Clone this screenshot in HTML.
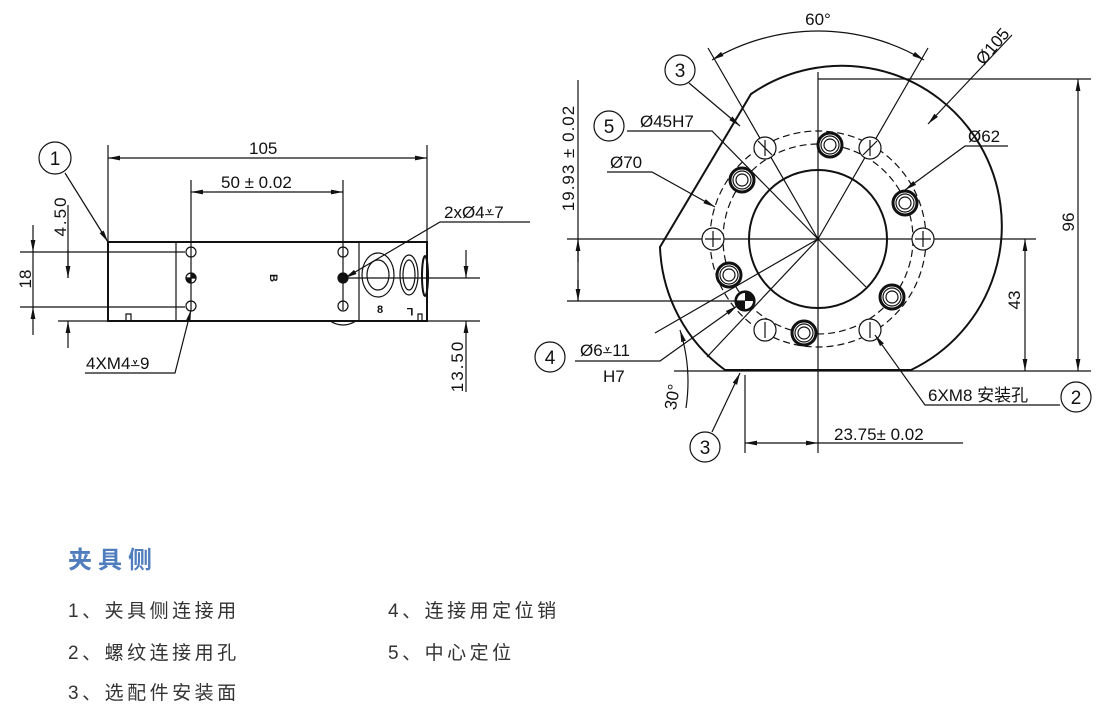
<!DOCTYPE html>
<html><head><meta charset="utf-8">
<style>
html,body{margin:0;padding:0;background:#fff;}
body{width:1108px;height:713px;position:relative;overflow:hidden;font-family:"Liberation Sans","Noto Sans CJK SC",sans-serif;}
svg{position:absolute;left:0;top:0;}
.t{position:absolute;font-family:"Liberation Sans","Noto Sans CJK SC",sans-serif;color:#333;font-size:19px;letter-spacing:3.5px;white-space:nowrap;line-height:1;}
</style></head><body>
<svg width="1108" height="713" viewBox="0 0 1108 713">
<defs>
<marker id="a" viewBox="0 0 12 6" refX="12" refY="3" markerWidth="12" markerHeight="6" markerUnits="userSpaceOnUse" orient="auto-start-reverse"><path d="M0,0.6 L12,3 L0,5.4 z" fill="#111"/></marker>
</defs>
<g stroke="#111" fill="none" stroke-width="1.2" font-family="Liberation Sans, Noto Sans CJK SC, sans-serif">
<!-- LEFT DRAWING -->
<rect x="108" y="242" width="319" height="79" stroke-width="2"/>
<line x1="176" y1="242" x2="176" y2="321"/>
<line x1="359" y1="242" x2="359" y2="321"/>
<path d="M126,321 v-7 h5 v7"/>
<path d="M418,321 v-7 h4 v7"/>
<circle cx="191" cy="252" r="5"/><circle cx="191" cy="306" r="5"/>
<circle cx="191" cy="278" r="5"/><path d="M191,278 v-5 a5,5 0 0 1 5,5 z M191,278 v5 a5,5 0 0 1 -5,-5 z" fill="#111"/>
<circle cx="343" cy="252" r="5"/><circle cx="343" cy="306" r="5"/>
<circle cx="343" cy="278" r="5" fill="#111"/>
<ellipse cx="378" cy="275" rx="16" ry="22"/><ellipse cx="378" cy="275" rx="11" ry="15"/>
<ellipse cx="409" cy="275" rx="9" ry="20"/><ellipse cx="409" cy="275" rx="6" ry="15"/>
<ellipse cx="425" cy="276" rx="3" ry="20" stroke-width="2"/>
<path d="M330,321 q13,8 26,0"/>
<line x1="108" y1="145" x2="108" y2="242"/><line x1="427" y1="145" x2="427" y2="242"/>
<line x1="108" y1="158" x2="427" y2="158" marker-start="url(#a)" marker-end="url(#a)"/>
<line x1="191" y1="180" x2="191" y2="310"/><line x1="343" y1="180" x2="343" y2="310"/>
<line x1="191" y1="192" x2="343" y2="192" marker-start="url(#a)" marker-end="url(#a)"/>
<circle cx="55" cy="158" r="16"/>
<line x1="65" y1="173" x2="108" y2="242" marker-end="url(#a)"/>
<line x1="20" y1="252" x2="185" y2="252"/><line x1="20" y1="307" x2="185" y2="307"/>
<line x1="33" y1="225" x2="33" y2="252" marker-end="url(#a)"/>
<line x1="33" y1="335" x2="33" y2="307" marker-end="url(#a)"/>
<line x1="33" y1="252" x2="33" y2="307"/>
<line x1="58" y1="321" x2="108" y2="321"/>
<line x1="68" y1="205" x2="68" y2="278"/>
<line x1="68" y1="250" x2="68" y2="278" marker-end="url(#a)"/>
<line x1="68" y1="348" x2="68" y2="321" marker-end="url(#a)"/>
<polyline points="85,373 175,373 191,310" marker-end="url(#a)"/>
<polyline points="530,222 440,222 345,278" marker-end="url(#a)"/>
<line x1="345" y1="278" x2="480" y2="278"/><line x1="427" y1="321" x2="480" y2="321"/>
<line x1="466" y1="250" x2="466" y2="278" marker-end="url(#a)"/>
<line x1="466" y1="392" x2="466" y2="321" marker-end="url(#a)"/>

<!-- RIGHT DRAWING -->
<path d="M751,94 A160,160 0 1 1 911,370 L725,370 A160,160 0 0 1 660,247 Z" stroke-width="2"/>
<circle cx="818" cy="239" r="69" stroke-width="2"/>
<circle cx="818" cy="239" r="95" stroke-dasharray="7,4"/>
<circle cx="818" cy="239" r="108" stroke-dasharray="7,4"/>
<line x1="567" y1="239" x2="1036" y2="239"/>
<line x1="818" y1="72" x2="818" y2="453"/>
<line x1="818" y1="239" x2="708" y2="48"/>
<line x1="818" y1="239" x2="928" y2="48"/>
<line x1="818" y1="239" x2="655" y2="333"/>
<line x1="818" y1="239" x2="866" y2="287"/>
<g fill="#fff">
<circle cx="923" cy="239" r="11"/><circle cx="870" cy="330" r="11"/><circle cx="765" cy="330" r="11"/>
<circle cx="713" cy="239" r="11"/><circle cx="765" cy="148" r="11"/><circle cx="870" cy="148" r="11"/>
</g>
<path d="M923,231v16M915,239h16 M713,231v16M705,239h16 M765,140v16 M870,140v16 M765,322v16 M870,322v16 M758,141 l14,14 M863,155 l14,-14"/>
<g fill="#fff">
<circle cx="830" cy="145" r="12" stroke-width="3"/><circle cx="905" cy="203" r="12" stroke-width="3"/>
<circle cx="892" cy="297" r="12" stroke-width="3"/><circle cx="804" cy="333" r="12" stroke-width="3"/>
<circle cx="729" cy="275" r="12" stroke-width="3"/><circle cx="742" cy="180" r="12" stroke-width="3"/>
</g>
<g>
<circle cx="830" cy="145" r="6"/><circle cx="905" cy="203" r="6"/><circle cx="892" cy="297" r="6"/>
<circle cx="804" cy="333" r="6"/><circle cx="729" cy="275" r="6"/><circle cx="742" cy="180" r="6"/>
<circle cx="830" cy="145" r="9"/><circle cx="905" cy="203" r="9"/><circle cx="892" cy="297" r="9"/>
<circle cx="804" cy="333" r="9"/><circle cx="729" cy="275" r="9"/><circle cx="742" cy="180" r="9"/>
</g>
<circle cx="745" cy="301" r="10" fill="#111"/>
<path d="M745,301 h-8 a8,8 0 0 1 8,-8 z M745,301 h8 a8,8 0 0 1 -8,8 z" fill="#fff" stroke="none"/>
<path d="M712,60 A208,208 0 0 1 924,60" marker-start="url(#a)" marker-end="url(#a)"/>
<line x1="818" y1="79" x2="1091" y2="79"/><line x1="674" y1="371" x2="1091" y2="371"/>
<line x1="1078" y1="79" x2="1078" y2="371" marker-start="url(#a)" marker-end="url(#a)"/>
<line x1="1025" y1="239" x2="1025" y2="371" marker-start="url(#a)" marker-end="url(#a)"/>
<line x1="567" y1="301" x2="745" y2="301"/>
<line x1="578" y1="80" x2="578" y2="301"/>
<line x1="578" y1="262" x2="578" y2="239" marker-end="url(#a)"/>
<line x1="578" y1="280" x2="578" y2="301" marker-end="url(#a)"/>
<line x1="745" y1="375" x2="745" y2="453"/>
<line x1="745" y1="443" x2="818" y2="443" marker-start="url(#a)" marker-end="url(#a)"/>
<line x1="818" y1="443" x2="963" y2="443"/>
<circle cx="680" cy="70" r="15"/>
<line x1="689" y1="83" x2="740" y2="126" marker-end="url(#a)"/>
<circle cx="609" cy="126" r="15"/>
<polyline points="627,131 712,131 818,239"/>
<polyline points="607,172 652,172 715,207" marker-end="url(#a)"/>
<line x1="1012" y1="35" x2="928" y2="124" marker-end="url(#a)"/>
<polyline points="1008,146 965,146 905,190" marker-end="url(#a)"/>
<circle cx="550" cy="357" r="15"/>
<polyline points="575,361 660,361 737,306" marker-end="url(#a)"/>
<circle cx="705" cy="447" r="15"/>
<line x1="712" y1="432" x2="740" y2="373" marker-end="url(#a)"/>
<polyline points="1060,405 925,405 875,335" marker-end="url(#a)"/>
<circle cx="1076" cy="397" r="15"/>
<path d="M680,330 Q692,368 686,408" marker-start="url(#a)"/>
<line x1="818" y1="239" x2="707" y2="357"/>
</g>
<g fill="#111" font-family="Liberation Sans, Noto Sans CJK SC, sans-serif" font-size="17">
<text x="249" y="154">105</text>
<text x="221" y="188">50 ± 0.02</text>
<text x="55" y="165" text-anchor="middle" font-size="19">1</text>
<text transform="translate(31,279) rotate(-90)" text-anchor="middle">18</text>
<text transform="translate(66,216) rotate(-90)" text-anchor="middle" letter-spacing="2">4.50</text>
<text x="86" y="369">4XM4⩡9</text>
<text x="444" y="218">2xØ4⩡7</text>
<text transform="translate(463,366) rotate(-90)" text-anchor="middle" letter-spacing="2">13.50</text>
<text transform="translate(270,278) rotate(90)" text-anchor="middle" font-size="11" font-weight="bold">B</text>
<text x="380" y="313" text-anchor="middle" font-size="11" font-weight="bold">8</text>
<text transform="translate(410,308) rotate(180)" text-anchor="middle" font-size="11" font-weight="bold">L</text>

<text x="818" y="25" text-anchor="middle">60°</text>
<text transform="translate(997,50) rotate(-50)" text-anchor="middle">Ø105</text>
<text x="680" y="77" text-anchor="middle" font-size="19">3</text>
<text x="609" y="133" text-anchor="middle" font-size="19">5</text>
<text x="640" y="127">Ø45H7</text>
<text x="610" y="168">Ø70</text>
<text x="968" y="142">Ø62</text>
<text transform="translate(574,158) rotate(-90)" text-anchor="middle" letter-spacing="1">19.93 ± 0.02</text>
<text transform="translate(1074,222) rotate(-90)" text-anchor="middle">96</text>
<text transform="translate(1020,300) rotate(-90)" text-anchor="middle">43</text>
<text x="550" y="364" text-anchor="middle" font-size="19">4</text>
<text x="580" y="356">Ø6⩡11</text>
<text x="603" y="382">H7</text>
<text transform="translate(678,398) rotate(-80)" text-anchor="middle">30°</text>
<text x="705" y="454" text-anchor="middle" font-size="19">3</text>
<text x="834" y="440">23.75± 0.02</text>
<text x="928" y="401">6XM8 安装孔</text>
<text x="1076" y="404" text-anchor="middle" font-size="19">2</text>
</g>
</svg>
<div class="t" style="left:68px;top:549px;font-size:24px;color:#4f7dbd;font-weight:bold;letter-spacing:6px;">夹具侧</div>
<div class="t" style="left:68px;top:602px;">1、夹具侧连接用</div>
<div class="t" style="left:68px;top:644px;">2、螺纹连接用孔</div>
<div class="t" style="left:68px;top:684px;">3、选配件安装面</div>
<div class="t" style="left:388px;top:602px;">4、连接用定位销</div>
<div class="t" style="left:388px;top:644px;">5、中心定位</div>
</body></html>
